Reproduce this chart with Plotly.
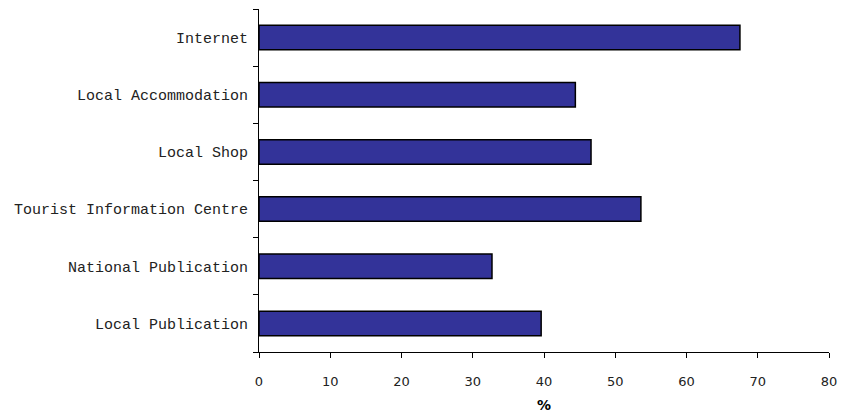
import plotly.graph_objects as go

# Information sources, listed bottom to top
sources = [
    "Local Publication",
    "National Publication",
    "Tourist Information Centre",
    "Local Shop",
    "Local Accommodation",
    "Internet",
]
percent = [39.6, 32.7, 53.6, 46.6, 44.4, 67.5]

x_ticks = [0, 10, 20, 30, 40, 50, 60, 70, 80]

fig = go.Figure(
    go.Bar(
        x=percent,
        y=sources,
        orientation="h",
        width=0.43,
        marker=dict(color="#333399", line=dict(color="#000000", width=1.5)),
        hoverinfo="x+y",
    )
)

fig.update_layout(
    width=846,
    height=419,
    margin=dict(l=259, r=12, t=9, b=66),
    paper_bgcolor="white",
    plot_bgcolor="white",
    showlegend=False,
    xaxis=dict(
        range=[0, 80],
        tickvals=x_ticks,
        ticks="outside",
        ticklen=5,
        tickcolor="#000000",
        showline=True,
        linecolor="#000000",
        linewidth=1,
        showgrid=False,
        zeroline=False,
        tickfont=dict(family="DejaVu Sans", size=13, color="#222222"),
        ticklabelstandoff=12,
        title=dict(
            text="<b>%</b>",
            font=dict(family="DejaVu Sans", size=14, color="#000000"),
            standoff=12,
        ),
    ),
    yaxis=dict(
        type="category",
        categoryorder="array",
        categoryarray=sources,
        tickson="boundaries",
        ticks="outside",
        ticklen=5,
        tickcolor="#000000",
        showline=True,
        linecolor="#000000",
        linewidth=1,
        showgrid=False,
        zeroline=False,
        tickfont=dict(family="Liberation Mono", size=15, color="#222222"),
        ticklabelstandoff=7,
    ),
)

fig.write_html("out.html")
